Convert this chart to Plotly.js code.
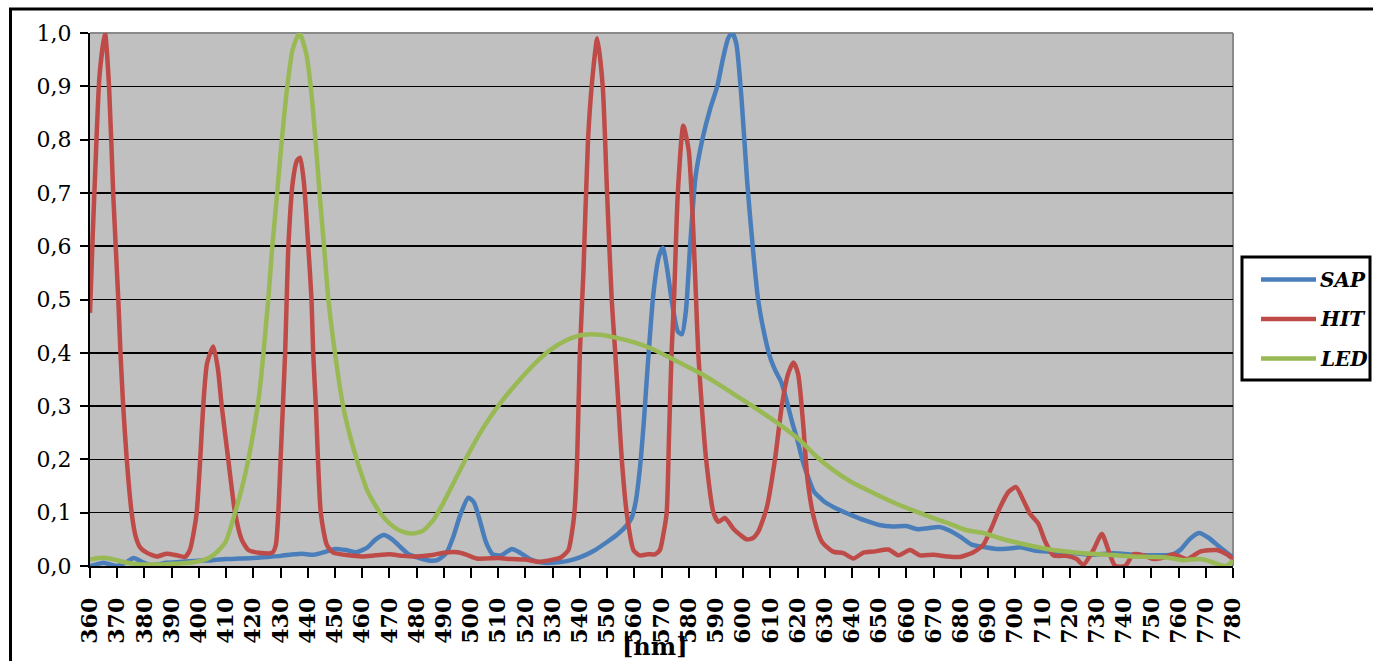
<!DOCTYPE html>
<html>
<head>
<meta charset="utf-8">
<script src="https://cdn.plot.ly/plotly-3.0.1.min.js"></script>
<style>html,body{margin:0;padding:0;background:#fff;}#chart{width:1373px;height:661px;}</style>
</head>
<body>
<div id="chart"></div>
<script>
// ---- data ----
const seriesNames = ['SAP', 'HIT', 'LED'];
const seriesColors = ['#4A7EBB', '#BE4B48', '#98B954'];

const wlSAP = [360,363,365,368,370,373,376,379,382,385,388,392,396,400,405,410,415,420,425,430,435,438,442,446,450,454,458,462,465,468,471,474,477,481,485,488,491,493.5,496,499,501,503,505.5,508,511,515,518,522,527,532,536,540,545,550,554,557,559,560.5,562,563.5,565,567,569,570.5,572,574,576,577.5,579,580.5,582.5,585,588,590.5,592.5,594.5,596,597.5,599.5,601.5,603.5,605.5,608,610,612,614,616,618,620,622,624,626,630,635,640,645,650,655,660,664,668,672,676,680,684,688,693,698,702,707,712,720,728,736,744,751,758,761,764,767.5,771,775,779,780];
const SAP = [0.0,0.004,0.006,0.002,0.0,0.006,0.015,0.008,0.002,0.003,0.006,0.007,0.009,0.01,0.011,0.013,0.014,0.015,0.017,0.019,0.022,0.023,0.021,0.026,0.032,0.03,0.026,0.035,0.05,0.058,0.05,0.036,0.022,0.015,0.01,0.012,0.025,0.055,0.095,0.128,0.12,0.09,0.045,0.022,0.02,0.032,0.025,0.012,0.006,0.007,0.01,0.016,0.028,0.045,0.06,0.075,0.09,0.12,0.18,0.27,0.38,0.51,0.58,0.597,0.56,0.49,0.44,0.435,0.48,0.6,0.73,0.8,0.86,0.9,0.95,0.99,1.0,0.98,0.87,0.72,0.6,0.5,0.43,0.39,0.365,0.345,0.31,0.27,0.235,0.195,0.165,0.14,0.12,0.106,0.095,0.085,0.077,0.074,0.075,0.069,0.071,0.073,0.066,0.054,0.04,0.036,0.032,0.033,0.035,0.029,0.027,0.025,0.021,0.024,0.021,0.02,0.022,0.032,0.05,0.062,0.053,0.036,0.02,0.016];

const wlHIT = [360,361,362,363.5,365.5,367,368.6,370.4,371.2,372.2,373.5,375.3,376.8,378.4,380.8,384.5,388.2,391.9,394.9,396.7,398,399.2,400.5,401.6,403,405.3,407,408.4,410.8,413.3,415.7,418.2,422,427,428.3,429.2,430.2,431.7,432.9,434.5,436,437.2,438.6,440.2,441.4,442,443,444.8,447,449.4,455,460,465,470,475,480,485,490,495,498,502,510,515,520,525,530,533,535.8,537,538,539,540,541.3,543,544.7,546.4,548.4,550,551.7,553,554.2,555.4,557.2,559.7,562,565,567.6,569.4,570.7,571.9,572.8,573.7,574.6,576,578,580,581.5,582.7,583.5,584.8,586.4,589.1,590.9,593.3,596.4,599,601.3,603.5,605.6,608.7,611.7,614.2,616.5,618.5,620.2,622,623.7,626,629,633,636.8,640.5,644.2,648,653.4,657.1,661.3,665,669.9,674.8,679.7,684.6,688.3,691.3,694.4,697.5,700.3,703,705.4,708.5,710.9,714,718.9,722.6,725,728.7,731.8,734.2,736.7,740.4,743.4,747.1,750.8,754.5,758.2,763.1,767.9,774,777.7,780];
const HIT = [0.475,0.62,0.75,0.92,1.0,0.9,0.69,0.5,0.4,0.3,0.2,0.1,0.055,0.035,0.025,0.018,0.023,0.02,0.017,0.03,0.06,0.1,0.2,0.3,0.38,0.412,0.37,0.3,0.2,0.1,0.05,0.03,0.025,0.025,0.04,0.1,0.22,0.4,0.6,0.72,0.76,0.766,0.72,0.6,0.5,0.4,0.3,0.1,0.04,0.025,0.02,0.018,0.02,0.022,0.019,0.018,0.02,0.025,0.026,0.022,0.014,0.015,0.013,0.012,0.008,0.012,0.016,0.03,0.06,0.1,0.2,0.4,0.55,0.8,0.92,0.99,0.9,0.7,0.5,0.4,0.3,0.2,0.1,0.03,0.02,0.022,0.022,0.03,0.06,0.1,0.25,0.4,0.5,0.7,0.826,0.78,0.65,0.5,0.4,0.3,0.2,0.1,0.083,0.09,0.07,0.058,0.05,0.052,0.065,0.11,0.2,0.3,0.36,0.382,0.36,0.27,0.16,0.09,0.045,0.027,0.024,0.014,0.025,0.027,0.031,0.02,0.03,0.02,0.021,0.018,0.017,0.026,0.04,0.072,0.11,0.139,0.148,0.123,0.098,0.079,0.047,0.02,0.019,0.013,0.002,0.03,0.06,0.03,0.0,0.0,0.022,0.02,0.013,0.016,0.022,0.013,0.027,0.03,0.022,0.013];

const wlLED = [360,363,366,369,372,375,378,382,386,390,394,398,401,404,407,410,413.3,416,418.2,420,421.6,423,424.1,425.5,427,428.6,430.5,432.5,434.5,437,439.5,441.5,443,444.5,446,447.6,450,453,455.5,458,462,466.6,470,474,478,482,486,490,494,498.5,504.6,510.7,516.8,522.9,529,535.2,541.3,547.4,553.6,559.7,565.8,571.9,578,584.1,590.3,596.4,602.5,608.7,614.8,620.9,627,633.1,639,645.4,651.5,657.6,663.7,669.9,676,682.1,688.3,694.4,700.5,706.6,712.7,718.9,725,731.1,737,743.4,749.5,755.6,761.7,767.9,772,775.2,777.5,780];
const LED = [0.012,0.015,0.015,0.012,0.008,0.005,0.003,0.003,0.003,0.004,0.005,0.007,0.01,0.016,0.028,0.047,0.1,0.15,0.2,0.25,0.3,0.36,0.42,0.5,0.6,0.69,0.8,0.9,0.97,1.0,0.96,0.88,0.79,0.69,0.6,0.5,0.4,0.3,0.245,0.2,0.14,0.1,0.08,0.066,0.061,0.065,0.085,0.12,0.16,0.205,0.26,0.305,0.343,0.377,0.405,0.424,0.434,0.434,0.428,0.42,0.409,0.394,0.378,0.362,0.343,0.323,0.303,0.282,0.26,0.236,0.205,0.18,0.16,0.143,0.128,0.114,0.102,0.09,0.079,0.067,0.062,0.052,0.044,0.037,0.031,0.027,0.024,0.022,0.02,0.018,0.017,0.016,0.011,0.013,0.008,0.002,0.0,0.01];

const xs = [wlSAP, wlHIT, wlLED];
const ys = [SAP, HIT, LED];
const xTitle = '[nm]';

// ---- geometry helpers (pixel -> paper) ----
const W = 1373, H = 661;
const M = {l: 90, r: 140, t: 33, b: 95};
const PW = W - M.l - M.r, PH = H - M.t - M.b;
const px = x => (x - M.l) / PW;
const py = y => (H - M.b - y) / PH;

const traces = seriesNames.map((n, i) => ({
  type: 'scatter', mode: 'lines', name: n,
  x: xs[i], y: ys[i],
  line: {color: seriesColors[i], width: 4.5, shape: 'spline', smoothing: 0.6},
  hoverinfo: 'skip'
}));

const shapes = [
  // outer frame (top + left visible)
  {type: 'rect', xref: 'paper', yref: 'paper', x0: px(10.5), x1: 1.4, y0: -0.4, y1: py(9), line: {color: 'black', width: 3}, layer: 'above'},
  // gray plot border top/right
  {type: 'line', xref: 'paper', yref: 'paper', x0: 0, x1: 1, y0: 1, y1: 1, line: {color: '#8a8a8a', width: 2}, layer: 'between'},
  {type: 'line', xref: 'paper', yref: 'paper', x0: 1, x1: 1, y0: 0, y1: 1, line: {color: '#8a8a8a', width: 2}, layer: 'between'},
  // legend box
  {type: 'rect', xref: 'paper', yref: 'paper', x0: px(1242), x1: px(1370), y0: py(380), y1: py(257), line: {color: 'black', width: 3}, fillcolor: 'white', layer: 'above'}
];
const legY = [279.5, 319, 358.5];
const annotations = [];
seriesNames.forEach((n, i) => {
  shapes.push({type: 'line', xref: 'paper', yref: 'paper', x0: px(1261), x1: px(1316), y0: py(legY[i]), y1: py(legY[i]), line: {color: seriesColors[i], width: 4.5}, layer: 'above'});
  annotations.push({xref: 'paper', yref: 'paper', x: px(1318), y: py(legY[i]), xanchor: 'left', yanchor: 'middle', showarrow: false, text: n,
    font: {family: 'DejaVu Serif', size: 20, color: 'black', weight: 'bold', style: 'italic'}});
});
annotations.push({xref: 'paper', yref: 'paper', x: px(655), y: py(646), xanchor: 'center', yanchor: 'middle', showarrow: false, text: xTitle,
  font: {family: 'DejaVu Serif', size: 24, color: 'black', weight: 'bold'}});

const layout = {
  width: W, height: H,
  margin: {l: M.l, r: M.r, t: M.t, b: M.b, pad: 0},
  paper_bgcolor: 'white', plot_bgcolor: '#c0c0c0',
  showlegend: false,
  separators: ', ',
  xaxis: {range: [360, 780], tickmode: 'linear', tick0: 360, dtick: 10, ticks: 'outside', ticklen: 10, tickwidth: 2, tickcolor: 'black',
    showline: true, linecolor: 'black', linewidth: 2, showgrid: false, zeroline: false, tickangle: -90, ticklabelstandoff: 11,
    tickfont: {family: 'DejaVu Serif', size: 22, color: 'black', weight: 'bold'}},
  yaxis: {range: [0, 1], tickmode: 'linear', tick0: 0, dtick: 0.1, tickformat: '.1f', ticks: 'outside', ticklen: 8, tickwidth: 2, tickcolor: 'black',
    showline: true, linecolor: 'black', linewidth: 2, showgrid: true, gridcolor: 'black', gridwidth: 1.5, zeroline: false, ticklabelstandoff: 4,
    tickfont: {family: 'DejaVu Serif', size: 22, color: 'black'}},
  shapes: shapes,
  annotations: annotations
};

Plotly.newPlot('chart', traces, layout, {displayModeBar: false, staticPlot: true});
</script>
</body>
</html>
